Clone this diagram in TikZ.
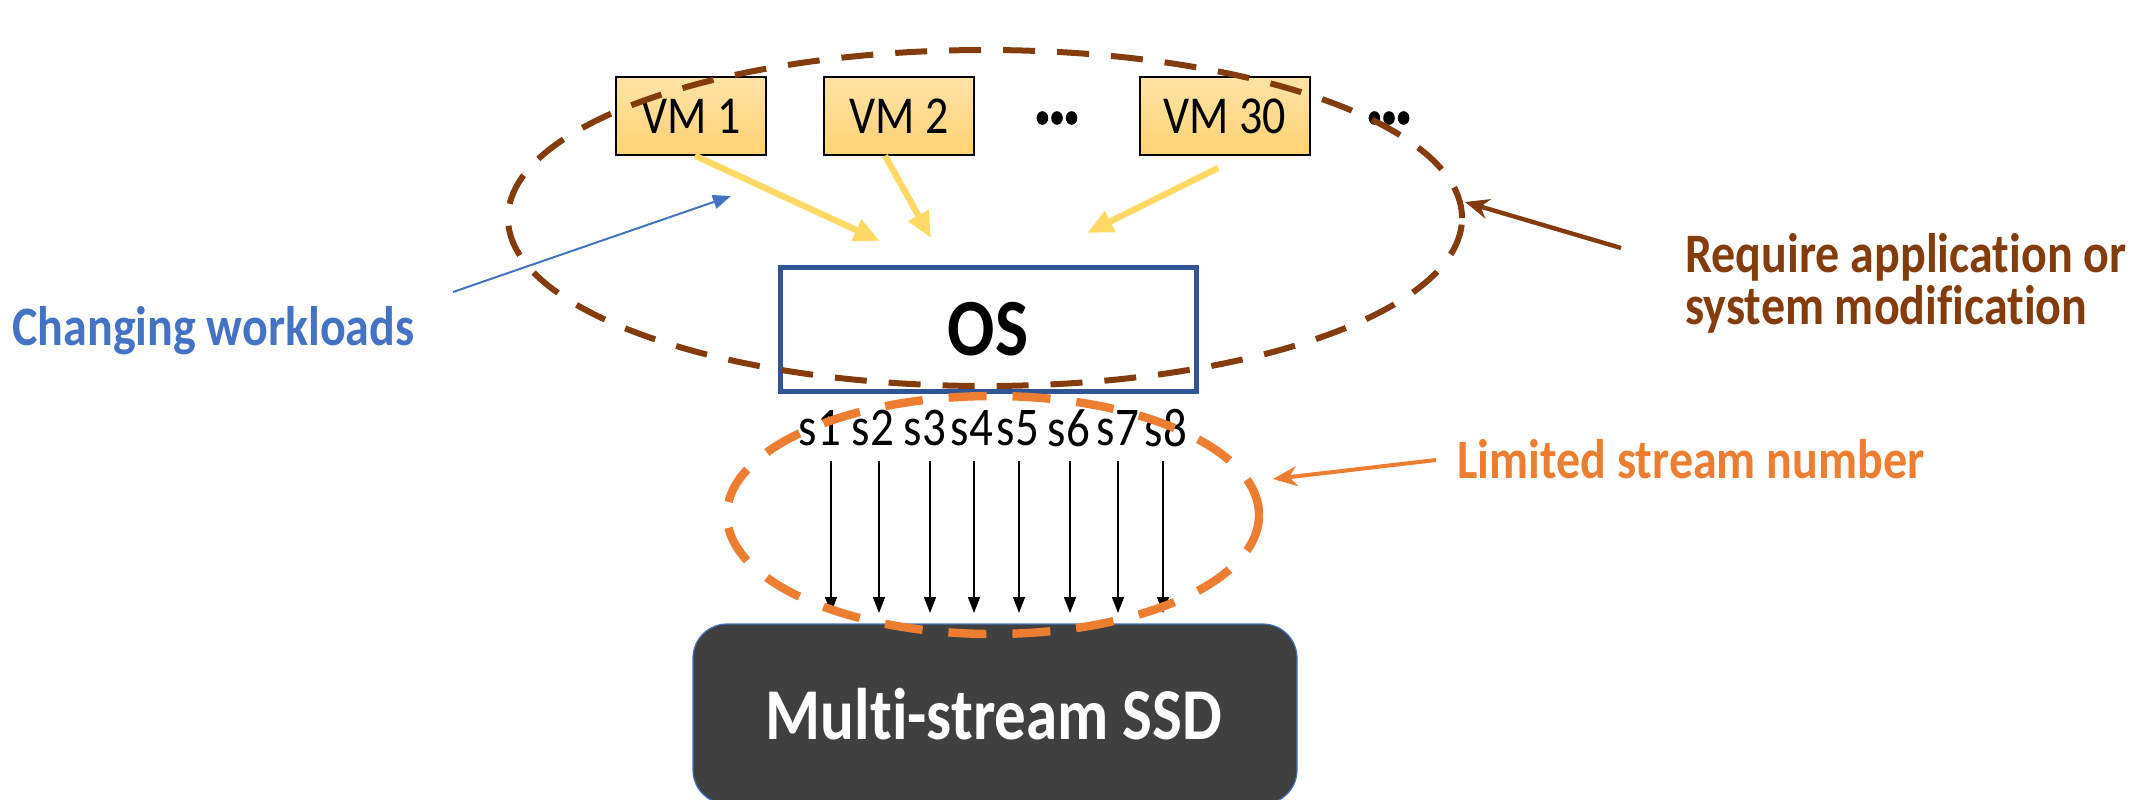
\documentclass[tikz,border=0pt]{standalone}
\usepackage{graphicx}
\usepackage{fontspec}
\setmainfont{Carlito}[Ligatures=NoCommon]
\usetikzlibrary{arrows.meta,shapes.geometric}
\definecolor{brownline}{HTML}{843C0C}
\definecolor{orangeline}{HTML}{ED7D31}
\definecolor{blueline}{HTML}{4472C4}
\definecolor{osblue}{HTML}{2F5597}
\definecolor{vmtop}{HTML}{FFE3A6}
\definecolor{vmbot}{HTML}{FFD273}
\definecolor{yellowarrow}{HTML}{FFD966}
\definecolor{ssdfill}{HTML}{404040}
% text in this figure is set slightly taller than wide
\newcommand{\talltext}[1]{\scalebox{1}[1.16]{#1}}
% three heavy dots
\newcommand{\heavydots}{\tikz[baseline=0pt]{\foreach \k in {0,1,2}{\fill (\k*7.3pt,3.4pt) ellipse [x radius=2.9pt, y radius=3.4pt];}}}
\tikzset{
  vmbox/.style={draw=black, line width=0.7pt, top color=vmtop, bottom color=vmbot,
    minimum width=75pt, minimum height=39pt, inner sep=0pt, font=\fontsize{23}{26}\selectfont},
  dots/.style={inner sep=0pt},
  vmarrow/.style={draw=yellowarrow, line width=3.2pt, -{Triangle[width=11pt,length=13pt]}},
  streamlabel/.style={font=\fontsize{23.5}{26}\selectfont, inner sep=0pt},
  streamarrow/.style={draw=black, line width=0.7pt, -{Triangle[width=6pt,length=8pt]}},
  note/.style={font=\bfseries\fontsize{24}{28}\selectfont, anchor=west, inner sep=0pt},
  region/.style={ellipse, inner sep=0pt},
}
\begin{document}
\begin{tikzpicture}[x=0.5pt,y=-0.5pt]
\useasboundingbox (0,0) rectangle (2151,799);

% virtual machines
\node[vmbox] (vm1) at (691,116) {\talltext{VM 1}};
\node[vmbox] (vm2) at (899,116) {\talltext{VM 2}};
\node[dots] (dots1) at (1057,118) {\heavydots};
\node[vmbox, minimum width=85pt] (vm30) at (1225,116) {\talltext{VM 30}};
\node[dots] (dots2) at (1389,118) {\heavydots};

% operating system
\node[draw=osblue, line width=2.5pt, minimum width=208pt, minimum height=62pt,
      font=\bfseries\fontsize{35}{38}\selectfont] (os) at (988,329) {\talltext{OS}};

% multi-stream device
\node[draw=blueline, line width=0.6pt, fill=ssdfill, rounded corners=17pt,
      minimum width=302pt, minimum height=90pt] (ssd) at (995,714) {};
\node[text=white, font=\bfseries\fontsize{31.5}{34}\selectfont] (ssdtext) at (994,714) {\talltext{Multi-stream SSD}};

% workload arrows into the OS
\coordinate (in1) at (880,241);
\coordinate (in2) at (931,238);
\coordinate (in30) at (1087,233);
\coordinate (out30) at (1218,168);
\draw[vmarrow] (vm1.south) ++(2pt,0) -- (in1);
\draw[vmarrow] (vm2.south) ++(-7pt,0) -- (in2);
\draw[vmarrow] (out30) -- (in30);

% streams
\foreach \i/\lx/\ax in {1/820/831, 2/873/879, 3/925/930, 4/972/974,
                        5/1018/1019, 6/1069/1070, 7/1118/1118, 8/1166/1163} {
  \node[streamlabel] (s\i) at (\lx,428) {\talltext{s\i}};
  \coordinate (st\i) at (\ax,461);
  \coordinate (sb\i) at (\ax,613);
  \draw[streamarrow] (st\i) -- (sb\i);
}

% changing workloads annotation
\node[note, text=blueline] (cw) at (12,331) {\talltext{Changing workloads}};
\coordinate (cwa) at (453,292);
\coordinate (cwb) at (731,196);
\draw[blueline, line width=1pt, -{Triangle[width=7pt,length=9pt]}] (cwa) -- (cwb);

% dashed regions
\node[region, draw=brownline, line width=3pt, dash pattern=on 16pt off 11pt,
      minimum width=477pt, minimum height=168pt] (vmregion) at (985,218) {};
\node[region, draw=orangeline, line width=4.2pt, dash pattern=on 19pt off 13pt,
      minimum width=266pt, minimum height=119pt] (streamregion) at (993,515) {};

% right-hand notes
\node[note, text=brownline] (req1) at (1685,257) {\talltext{Require application or}};
\node[note, text=brownline] (req2) at (1685,309) {\talltext{system modification}};
\coordinate (reqa) at (1621,248);
\coordinate (reqb) at (1465,202);
\draw[brownline, line width=2.2pt, -{Stealth[width=10pt,length=12pt]}] (reqa) -- (reqb);

\node[note, text=orangeline] (lim) at (1457,459) {\talltext{Limited stream number}};
\coordinate (lima) at (1436,460);
\coordinate (limb) at (1273,479);
\draw[orangeline, line width=2pt, -{Stealth[width=10pt,length=12pt]}] (lima) -- (limb);
\end{tikzpicture}
\end{document}
